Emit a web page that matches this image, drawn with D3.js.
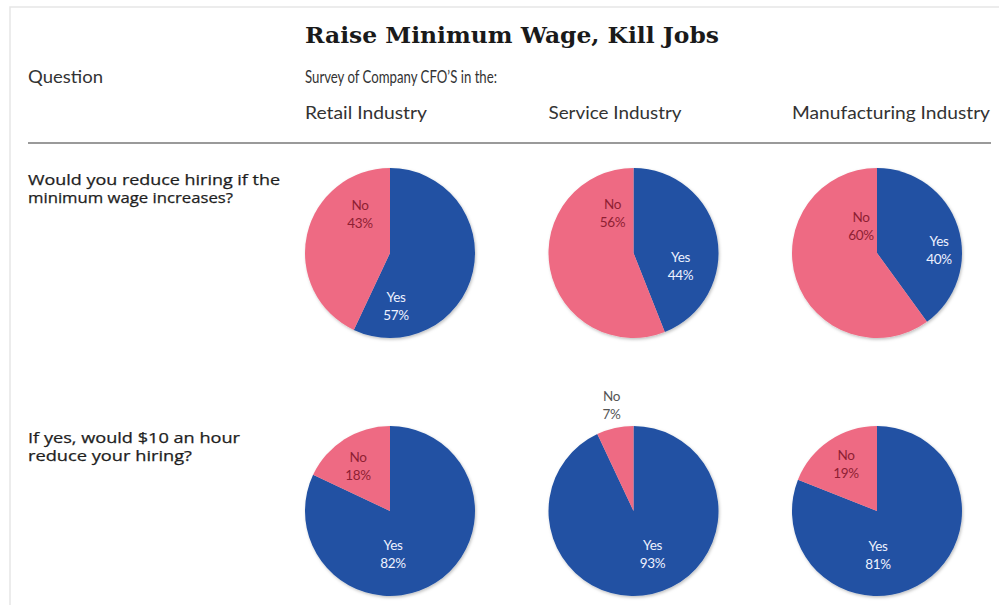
<!DOCTYPE html>
<html>
<head>
<meta charset="utf-8">
<script src="https://cdn.jsdelivr.net/npm/d3@7"></script>
<style>
  html, body { margin: 0; padding: 0; background: #fff; }
  svg { display: block; }
</style>
</head>
<body>
<svg id="chart" width="999" height="605"></svg>
<script>
// ---- data ----
const industries = ["Retail Industry", "Service Industry", "Manufacturing Industry"];
const questions = [
  ["Would you reduce hiring if the", "minimum wage increases?"],
  ["If yes, would $10 an hour", "reduce your hiring?"]
];
const answers = ["Yes", "No"];
const yesShare = [[57, 44, 40], [82, 93, 81]];
const noShare  = [[43, 56, 60], [18, 7, 19]];

// ---- layout ----
const W = 999, H = 605;
const radius = 85;
const colors = { Yes: "#2151a3", No: "#ee6b83" };
const labelColors = { Yes: "#eef1ff", No: "#8e1f33", outside: "#555" };
// label anchor offsets from each pie centre [row][col] -> {Yes:[dx,dy], No:[dx,dy]}
const labelOffsets = [
  [ { Yes: [6, 53],  No: [-30, -39] }, { Yes: [47, 13], No: [-21, -40] }, { Yes: [62, -3], No: [-16, -27] } ],
  [ { Yes: [3, 43],  No: [-32, -45] }, { Yes: [19, 43], No: [-22, -106] }, { Yes: [1, 44],  No: [-31, -47] } ]
];

const svg = d3.select("#chart");

// soft shadow under the pies
const defs = svg.append("defs");
const f = defs.append("filter").attr("id", "soft").attr("x", "-10%").attr("y", "-10%")
  .attr("width", "120%").attr("height", "120%");
f.append("feDropShadow").attr("dx", 1).attr("dy", 1.5).attr("stdDeviation", 1.6)
  .attr("flood-color", "#000").attr("flood-opacity", 0.25);

// faint frame
svg.append("path").attr("d", `M10,${H} L10,7 L${W},7`)
  .attr("fill", "none").attr("stroke", "#e6e6e6").attr("stroke-width", 1.5);

const x = d3.scalePoint().domain(industries).range([390, 877]);
const y = d3.scalePoint().domain(d3.range(questions.length)).range([253, 511]);

const sans = "Lato, 'Open Sans', sans-serif";

// title
svg.append("text")
  .attr("x", 512).attr("y", 43)
  .attr("text-anchor", "middle")
  .attr("font-family", "'DejaVu Serif', serif")
  .attr("font-weight", "bold")
  .attr("font-size", 23)
  .attr("fill", "#1a1a1a")
  .attr("textLength", 414).attr("lengthAdjust", "spacingAndGlyphs")
  .text("Raise Minimum Wage, Kill Jobs");

// header texts
const headerStyle = sel => sel
  .attr("font-family", sans).attr("font-size", 18).attr("fill", "#333")
  .attr("lengthAdjust", "spacingAndGlyphs");

svg.append("text").attr("x", 28).attr("y", 83).call(headerStyle)
  .attr("textLength", 75).text("Question");
svg.append("text").attr("x", x(industries[0]) - radius).attr("y", 83).call(headerStyle)
  .attr("textLength", 192).text("Survey of Company CFO\u2019S in the:");

const headerWidths = [122, 133, 198];
svg.selectAll("text.ind").data(industries).join("text")
  .attr("class", "ind")
  .attr("x", d => x(d) - radius).attr("y", 119)
  .call(headerStyle)
  .attr("textLength", (d, i) => headerWidths[i])
  .text(d => d);

// rule under headers
svg.append("line").attr("x1", 28).attr("x2", 991).attr("y1", 143).attr("y2", 143)
  .attr("stroke", "#9a9a9a").attr("stroke-width", 2);

// question texts
const qWidths = [[252, 205], [212, 164]];
questions.forEach((lines, r) => {
  lines.forEach((line, k) => {
    svg.append("text")
      .attr("x", 28).attr("y", y(r) - 68 + k * 17.5)
      .attr("font-family", "'Open Sans', sans-serif").attr("font-size", 14.5)
      .attr("fill", "#1e1e1e")
      .attr("stroke", "#1e1e1e").attr("stroke-width", 0.25)
      .attr("textLength", qWidths[r][k]).attr("lengthAdjust", "spacingAndGlyphs")
      .text(line);
  });
});

// pies
const pie = d3.pie().sort(null).value(d => d.value);
const arc = d3.arc().innerRadius(0).outerRadius(radius);

questions.forEach((q, r) => {
  industries.forEach((ind, c) => {
    const slices = pie([
      { answer: answers[0], value: yesShare[r][c] },
      { answer: answers[1], value: noShare[r][c] }
    ]);
    const g = svg.append("g").attr("transform", `translate(${x(ind)},${y(r)})`);
    g.append("g").attr("filter", "url(#soft)")
      .selectAll("path").data(slices).join("path")
      .attr("d", arc)
      .attr("fill", d => colors[d.data.answer]);

    slices.forEach(s => {
      const a = s.data.answer;
      const [dx, dy] = labelOffsets[r][c][a];
      const inside = Math.hypot(dx, dy) < radius;
      const t = g.append("text")
        .attr("x", dx).attr("y", dy)
        .attr("text-anchor", "middle")
        .attr("font-family", sans).attr("font-size", 13.5)
        .attr("letter-spacing", -0.3)
        .attr("fill", inside ? labelColors[a] : labelColors.outside);
      t.append("tspan").attr("x", dx).attr("dy", -4).text(a);
      t.append("tspan").attr("x", dx).attr("dy", 18).text(s.data.value + "%");
    });
  });
});
</script>
</body>
</html>
